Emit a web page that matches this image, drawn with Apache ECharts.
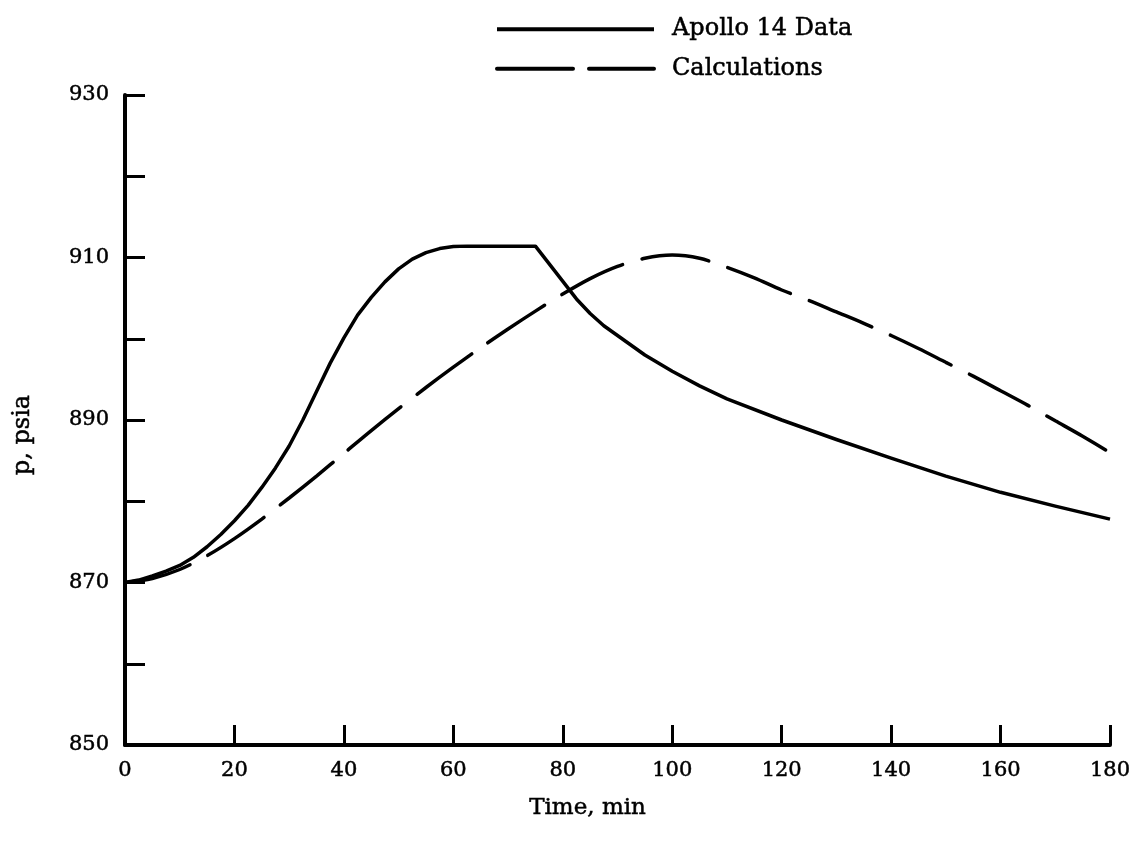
<!DOCTYPE html>
<html>
<head>
<meta charset="utf-8">
<script src="https://cdn.jsdelivr.net/npm/echarts@6/dist/echarts.min.js"></script>
<style>
  html, body { margin: 0; padding: 0; background: #fff; }
  #chart { width: 1147px; height: 847px; }
</style>
</head>
<body>
<div id="chart"></div>
<script>
// ---- data ----
const seriesNames = ['Apollo 14 Data', 'Calculations'];

const apolloTime = [0, 2.5, 5, 7.5, 10, 12.5, 15, 17.5, 20, 22.5, 25, 27.5, 30, 32.5, 35, 37.5, 40, 42.5, 45, 47.5, 50, 52.5, 55, 57.5, 60, 62.5, 75, 82.5, 85, 87.5, 90, 95, 100, 105, 110, 120, 130, 140, 150, 160, 170, 180];
const apolloP    = [870, 870.3, 870.8, 871.4, 872.1, 873.1, 874.4, 875.9, 877.6, 879.5, 881.7, 884.1, 886.8, 890.0, 893.5, 897.0, 900.1, 902.9, 905.1, 907.0, 908.6, 909.8, 910.6, 911.1, 911.35, 911.4, 911.4, 904.9, 903.1, 901.6, 900.4, 898.0, 896.0, 894.2, 892.6, 890.0, 887.6, 885.3, 883.1, 881.1, 879.4, 877.8];

const calcTime = [0, 5, 10, 15, 20, 25, 30, 35, 40, 45, 50, 55, 60, 65, 70, 75, 80, 85, 90, 95, 100, 105, 110, 115, 120, 125, 130, 135, 140, 145, 150, 155, 160, 165, 170, 175, 180];
const calcP    = [870, 870.5, 871.6, 873.3, 875.4, 877.8, 880.4, 883.1, 885.9, 888.7, 891.4, 894.0, 896.5, 898.9, 901.2, 903.4, 905.5, 907.4, 908.9, 909.9, 910.3, 909.9, 908.8, 907.5, 906.0, 904.7, 903.3, 901.9, 900.4, 898.8, 897.1, 895.4, 893.6, 891.8, 889.9, 888.0, 886.0];

const xTicks = { min: 0, max: 180, interval: 20 };
const yTicks = { min: 850, max: 930, interval: 10, labelEvery: 20 };

const xName = 'Time, min';
const yName = 'p, psia';

// ---- chart ----
const font = 'DejaVu Serif';
const ink = { color: '#000', textBorderColor: '#000', textBorderWidth: 0.5 };
const chart = echarts.init(document.getElementById('chart'), null, { renderer: 'canvas' });

function pairs(xs, ys) { return xs.map((x, i) => [x, ys[i]]); }

const option = {
  backgroundColor: '#ffffff',
  animation: false,
  grid: { left: 125, right: 37, top: 95, bottom: 102, containLabel: false },
  legend: {
    orient: 'vertical',
    left: 490,
    top: 12,
    itemWidth: 157,
    itemHeight: 14,
    itemGap: 15,
    itemStyle: { opacity: 0 },
    textStyle: Object.assign({ fontFamily: font, fontSize: 24, padding: [0, 0, 0, 13] }, ink),
    data: [
      { name: seriesNames[0], itemStyle: { opacity: 0 }, lineStyle: { width: 4, type: 'solid', color: '#000' } },
      { name: seriesNames[1], itemStyle: { opacity: 0 }, lineStyle: { width: 4, type: [76, 16], color: '#000' } }
    ]
  },
  xAxis: {
    type: 'value',
    min: xTicks.min, max: xTicks.max, interval: xTicks.interval,
    name: xName,
    nameLocation: 'middle',
    nameGap: 52,
    nameTextStyle: Object.assign({ fontFamily: font, fontSize: 23, padding: [0, 60, 0, 0] }, ink),
    axisLine: { show: true, onZero: false, lineStyle: { color: '#000', width: 4 } },
    axisTick: { show: true, inside: true, length: 20, lineStyle: { color: '#000', width: 3 } },
    axisLabel: Object.assign({ fontFamily: font, fontSize: 21, margin: 15 }, ink),
    splitLine: { show: false }
  },
  yAxis: {
    type: 'value',
    min: yTicks.min, max: yTicks.max, interval: yTicks.interval,
    name: yName,
    nameLocation: 'middle',
    nameRotate: 90,
    nameGap: 90,
    nameTextStyle: Object.assign({ fontFamily: font, fontSize: 24, padding: [0, 0, 0, -30] }, ink),
    axisLine: { show: true, onZero: false, lineStyle: { color: '#000', width: 4 } },
    axisTick: { show: true, inside: true, length: 20, lineStyle: { color: '#000', width: 3 } },
    axisLabel: Object.assign({
      fontFamily: font, fontSize: 21, margin: 16,
      formatter: v => ((v - yTicks.min) % yTicks.labelEvery === 0 ? String(v) : '')
    }, ink),
    splitLine: { show: false }
  },
  series: [
    {
      name: seriesNames[0],
      type: 'line',
      data: pairs(apolloTime, apolloP),
      smooth: false,
      showSymbol: false,
      symbol: 'none',
      lineStyle: { color: '#000', width: 3.5, type: 'solid', join: 'round' },
      itemStyle: { color: '#000' }
    },
    {
      name: seriesNames[1],
      type: 'line',
      data: pairs(calcTime, calcP),
      smooth: 0.3,
      showSymbol: false,
      symbol: 'none',
      lineStyle: { color: '#000', width: 3.5, type: [68, 20], cap: 'round' },
      itemStyle: { color: '#000' }
    }
  ]
};
chart.setOption(option);
</script>
</body>
</html>
